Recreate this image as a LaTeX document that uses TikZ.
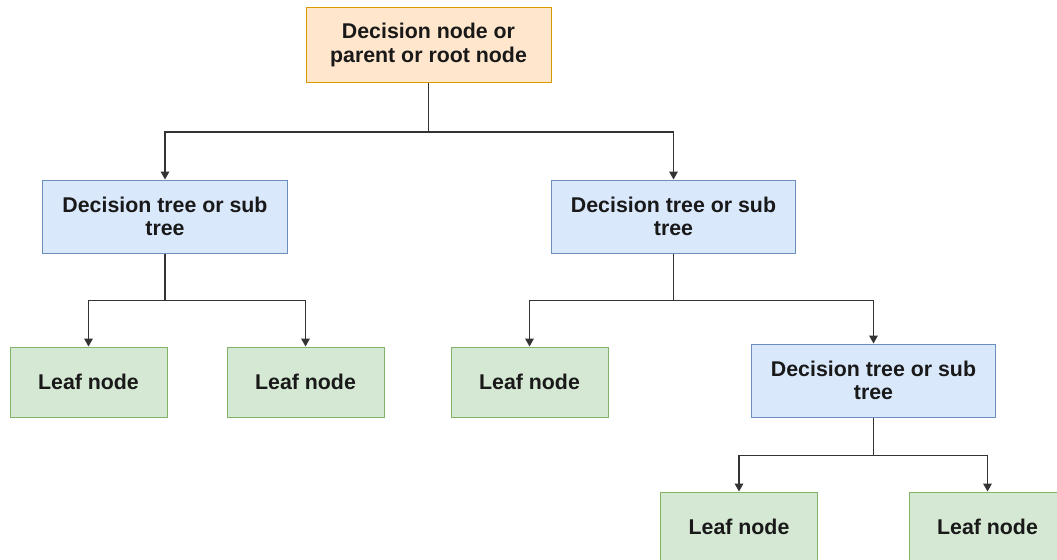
\documentclass[tikz,border=0pt]{standalone}
\usepackage{fontspec}
\setmainfont{Liberation Sans}
\usepackage{xcolor}
\usepackage{tikz}
\usetikzlibrary{arrows.meta,positioning}
\definecolor{RootFill}{HTML}{FFE6CC}
\definecolor{RootLine}{HTML}{D79B00}
\definecolor{SubFill}{HTML}{DAE8FC}
\definecolor{SubLine}{HTML}{6C8EBF}
\definecolor{LeafFill}{HTML}{D5E8D4}
\definecolor{LeafLine}{HTML}{82B366}
\definecolor{EdgeGray}{HTML}{333333}
\tikzset{
  box/.style={draw, align=center, inner sep=0pt, line width=0.75pt,
              font=\bfseries\fontsize{16}{17.3}\selectfont, text=black!90},
  rootbox/.style={box, fill=RootFill, draw=RootLine,
                  minimum width=183.75pt, minimum height=56.25pt},
  subbox/.style={box, fill=SubFill, draw=SubLine,
                 minimum width=183.5pt, minimum height=54.75pt},
  leafbox/.style={box, fill=LeafFill, draw=LeafLine,
                  minimum width=117.75pt, minimum height=52.5pt},
  link/.style={-{Triangle[length=6pt, width=6.5pt]}, line width=1pt, draw=EdgeGray}
}
\begin{document}
\begin{tikzpicture}[x=0.75pt, y=-0.75pt]
  \clip (0,0) rectangle (1057,560);
  \node[rootbox] (root) at (428.5,45) {Decision node or\\parent or root node};
  \node[subbox] (sub1) at (165,216.5) {Decision tree or sub\\tree};
  \node[subbox] (sub2) at (673.5,216.5) {Decision tree or sub\\tree};
  \node[leafbox] (leaf1) at (88.5,382) {Leaf node};
  \node[leafbox] (leaf2) at (305.5,382) {Leaf node};
  \node[leafbox] (leaf3) at (529.5,382) {Leaf node};
  \node[subbox] (sub3) at (873.5,380.5) {Decision tree or sub\\tree};
  \node[leafbox] (leaf4) at (739,527) {Leaf node};
  \node[leafbox] (leaf5) at (987.5,527) {Leaf node};
  % root splits
  \draw[link] (root.south) -- ++(0,49) -| (sub1.north);
  \draw[link] (root.south) -- ++(0,49) -| (sub2.north);
  % left sub tree
  \draw[link] (sub1.south) -- ++(0,47) -| (leaf1.north);
  \draw[link] (sub1.south) -- ++(0,47) -| (leaf2.north);
  % right sub tree
  \draw[link] (sub2.south) -- ++(0,47) -| (leaf3.north);
  \draw[link] (sub2.south) -- ++(0,47) -| (sub3.north);
  \draw[link] (sub3.south) -- ++(0,38) -| (leaf4.north);
  \draw[link] (sub3.south) -- ++(0,38) -| (leaf5.north);
\end{tikzpicture}
\end{document}
